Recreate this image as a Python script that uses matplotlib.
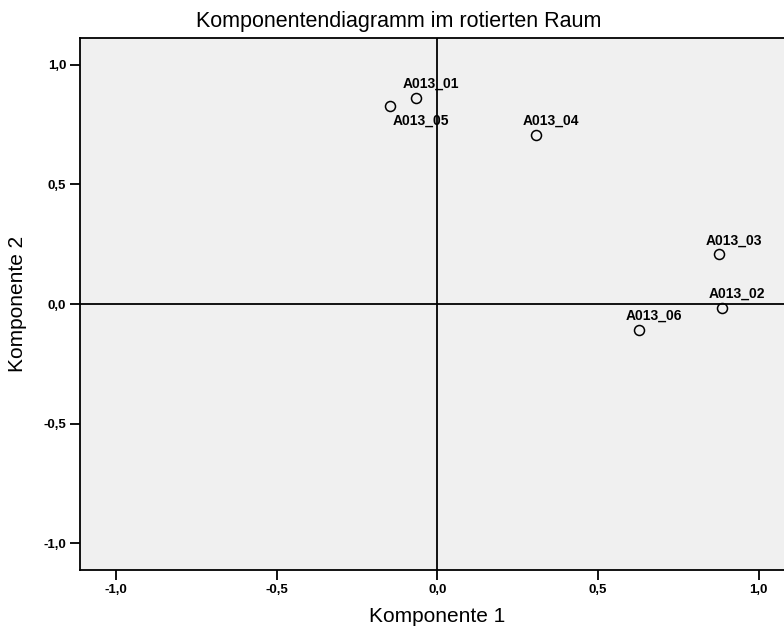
import matplotlib
matplotlib.use("Agg")
import matplotlib.pyplot as plt

# Rotated component loadings
items = ["A013_01", "A013_05", "A013_04", "A013_03", "A013_02", "A013_06"]
comp1 = [-0.066, -0.146, 0.308, 0.876, 0.885, 0.629]
comp2 = [0.863, 0.826, 0.706, 0.207, -0.017, -0.108]

tick_values = [-1.0, -0.5, 0.0, 0.5, 1.0]
tick_labels = ["-1,0", "-0,5", "0,0", "0,5", "1,0"]

plt.rcParams["font.family"] = ["Liberation Sans", "DejaVu Sans"]

fig = plt.figure(figsize=(7.84, 6.26), dpi=100)
fig.patch.set_facecolor("white")
ax = fig.add_axes([0.10204, 0.08946, 0.9114, 0.8498])
ax.set_facecolor("#f0f0f0")

lim = 1.112
ax.set_xlim(-lim, lim)
ax.set_ylim(-lim, lim)

# Reference lines through the origin
ax.axhline(0, color="black", lw=1.3, zorder=1)
ax.axvline(0, color="black", lw=1.3, zorder=1)

ax.plot(comp1, comp2, linestyle="none", marker="o", markersize=7.2,
        markerfacecolor="none", markeredgecolor="black", markeredgewidth=1.1,
        zorder=3)

# Label placement offsets (points), one per item
offsets = {"A013_05": (22.3, -10.1)}
for name, x, y in zip(items, comp1, comp2):
    dx, dy = offsets.get(name, (10.8, 10.1))
    ax.annotate(name, (x, y), xytext=(dx, dy), textcoords="offset points",
                ha="center", va="center", fontsize=10, fontweight="bold",
                zorder=4)

ax.set_xticks(tick_values)
ax.set_xticklabels(tick_labels, fontsize=9.5, fontweight="bold")
ax.set_yticks(tick_values)
ax.set_yticklabels(tick_labels, fontsize=9.5, fontweight="bold")
ax.tick_params(axis="both", direction="out", length=7, width=1.3,
               colors="black", pad=3)

for side in ["left", "bottom", "top", "right"]:
    ax.spines[side].set_linewidth(1.3)
    ax.spines[side].set_color("black")

ax.set_xlabel("Komponente 1", fontsize=15, labelpad=8)
ax.set_ylabel("Komponente 2", fontsize=15, labelpad=12)
fig.text(0.508, 0.966, "Komponentendiagramm im rotierten Raum",
         ha="center", va="center", fontsize=15.5)

fig.savefig("out.png", dpi=100)
